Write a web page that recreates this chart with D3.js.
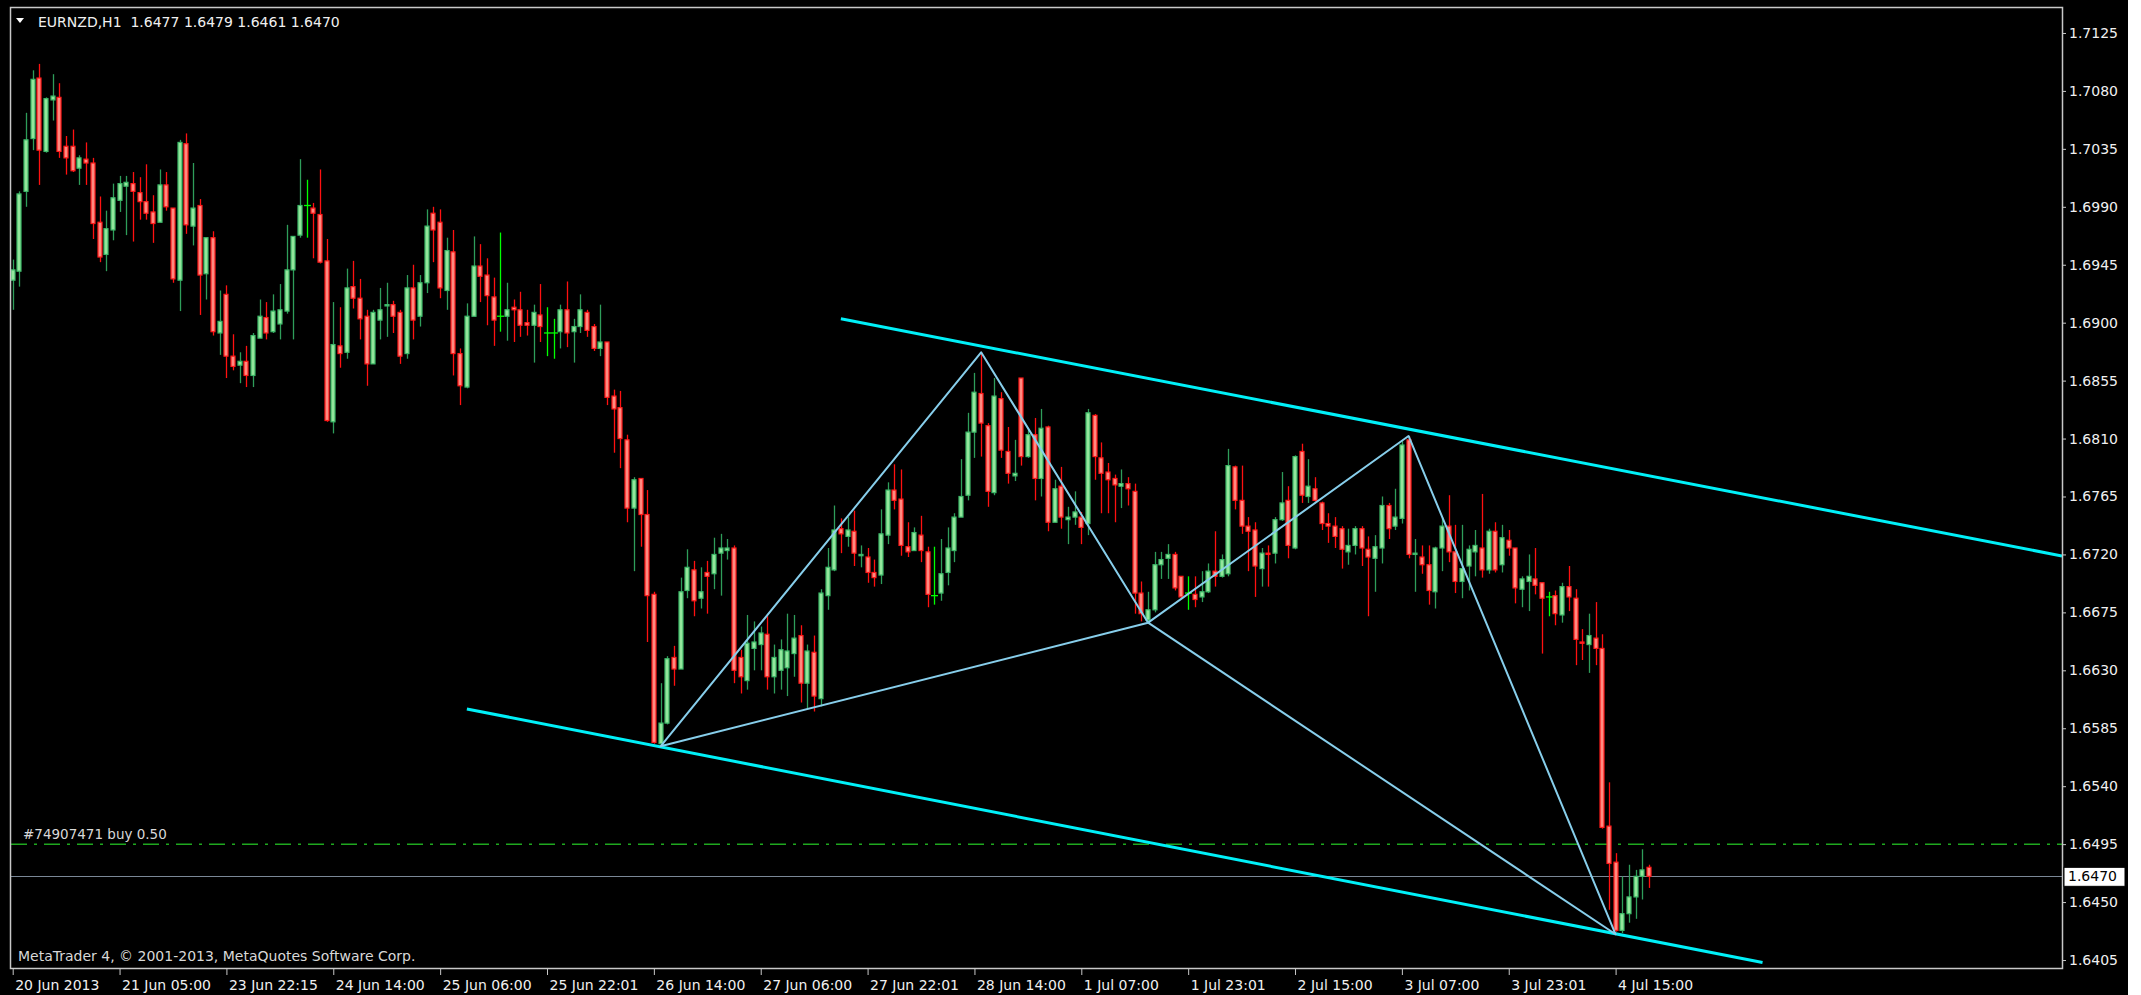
<!DOCTYPE html>
<html>
<head>
<meta charset="utf-8">
<script src="https://cdn.jsdelivr.net/npm/d3@7"></script>
<style>
  html, body { margin: 0; padding: 0; background: #000; }
  svg { display: block; }
  text { font-family: "DejaVu Sans", sans-serif; }
</style>
</head>
<body>
<svg id="chart" width="2141" height="995"></svg>
<script>
// EURNZD H1 candles (bar index = position on chart)
const opens = [
  1.6933,1.6940,1.7002,1.7043,1.7090,1.7033,1.7073,1.7075,1.7037,1.7037,
  1.7020,1.7027,1.7024,1.6978,1.6953,1.6972,1.6995,1.7006,1.7008,1.7001,
  1.6994,1.6986,1.6978,1.7007,1.6989,1.6933,1.7039,1.6975,1.6991,1.6938,
  1.6966,1.6892,1.6922,1.6874,1.6867,1.6870,1.6859,1.6888,1.6904,1.6893,
  1.6899,1.6909,1.6941,1.6968,1.6991,1.6989,1.6984,1.6948,1.6823,1.6882,
  1.6877,1.6928,1.6919,1.6905,1.6868,1.6902,1.6913,1.6914,1.6908,1.6876,
  1.6927,1.6905,1.6931,1.6985,1.6978,1.6925,1.6955,1.6876,1.6850,1.6905,
  1.6944,1.6937,1.6920,1.6905,1.6905,1.6912,1.6910,1.6900,1.6898,1.6906,
  1.6892,1.6892,1.6893,1.6910,1.6893,1.6897,1.6908,1.6897,1.6880,1.6885,
  1.6843,1.6834,1.6809,1.6756,1.6779,1.6751,1.6689,1.6573,1.6589,1.6640,
  1.6631,1.6692,1.6708,1.6686,1.6706,1.6705,1.6721,1.6723,1.6725,1.6640,
  1.6622,1.6647,1.6650,1.6658,1.6625,1.6630,1.6632,1.6643,1.6657,1.6620,
  1.6644,1.6608,1.6688,1.6708,1.6740,1.6734,1.6738,1.6719,1.6718,1.6706,
  1.6704,1.6735,1.6770,1.6763,1.6726,1.6723,1.6735,1.6722,1.6688,1.6690,
  1.6706,1.6723,1.6749,1.6766,1.6815,1.6845,1.6820,1.6768,1.6841,1.6800,
  1.6781,1.6857,1.6796,1.6813,1.6779,1.6819,1.6745,1.6773,1.6747,1.6749,
  1.6749,1.6744,1.6828,1.6795,1.6784,1.6779,1.6773,1.6775,1.6769,1.6690,
  1.6669,1.6677,1.6712,1.6717,1.6720,1.6703,1.6690,1.6689,1.6687,1.6691,
  1.6707,1.6703,1.6705,1.6788,1.6762,1.6742,1.6739,1.6709,1.6721,1.6721,
  1.6747,1.6762,1.6725,1.6800,1.6765,1.6771,1.6760,1.6744,1.6742,1.6740,
  1.6722,1.6727,1.6740,1.6724,1.6717,1.6725,1.6758,1.6742,1.6748,1.6809,
  1.6720,1.6718,1.6712,1.6691,1.6725,1.6742,1.6722,1.6699,1.6711,1.6722,
  1.6725,1.6708,1.6738,1.6712,1.6731,1.6725,1.6693,1.6699,1.6701,1.6698,
  1.6687,1.6688,1.6673,1.6695,1.6686,1.6652,1.6650,1.6655,1.6647,1.6509,
  1.6481,1.6428,1.6441,1.6454,1.6470,1.6477
];
const highs = [
  1.6949,1.7002,1.7063,1.7096,1.7101,1.7075,1.7093,1.7086,1.7045,1.7050,
  1.7030,1.7040,1.7028,1.6998,1.6987,1.7008,1.7014,1.7014,1.7017,1.7013,
  1.7023,1.6999,1.7019,1.7017,1.6989,1.7042,1.7047,1.7024,1.6996,1.6966,
  1.6971,1.6925,1.6929,1.6891,1.6877,1.6882,1.6892,1.6918,1.6916,1.6922,
  1.6930,1.6976,1.6967,1.7027,1.7011,1.6993,1.7019,1.6965,1.6916,1.6912,
  1.6942,1.6948,1.6934,1.6910,1.6910,1.6927,1.6931,1.6917,1.6910,1.6937,
  1.6945,1.6937,1.6988,1.6990,1.6988,1.6966,1.6972,1.6880,1.6915,1.6967,
  1.6961,1.6950,1.6935,1.6970,1.6931,1.6918,1.6924,1.6910,1.6914,1.6930,
  1.6912,1.6903,1.6914,1.6932,1.6903,1.6922,1.6910,1.6899,1.6914,1.6885,
  1.6848,1.6847,1.6813,1.6780,1.6779,1.6770,1.6691,1.6620,1.6641,1.6649,
  1.6702,1.6724,1.6715,1.6710,1.6715,1.6733,1.6736,1.6732,1.6727,1.6646,
  1.6673,1.6668,1.6664,1.6672,1.6650,1.6654,1.6674,1.6673,1.6665,1.6650,
  1.6657,1.6693,1.6725,1.6758,1.6748,1.6749,1.6754,1.6727,1.6725,1.6716,
  1.6755,1.6776,1.6790,1.6786,1.6745,1.6741,1.6750,1.6726,1.6726,1.6732,
  1.6741,1.6752,1.6794,1.6830,1.6861,1.6877,1.6822,1.6857,1.6846,1.6819,
  1.6809,1.6857,1.6817,1.6826,1.6833,1.6820,1.6778,1.6788,1.6757,1.6769,
  1.6753,1.6833,1.6829,1.6807,1.6791,1.6782,1.6786,1.6780,1.6775,1.6699,
  1.6691,1.6722,1.6722,1.6728,1.6722,1.6703,1.6703,1.6703,1.6707,1.6713,
  1.6738,1.6720,1.6802,1.6789,1.6789,1.6749,1.6745,1.6725,1.6727,1.6749,
  1.6784,1.6773,1.6797,1.6806,1.6794,1.6780,1.6761,1.6752,1.6749,1.6742,
  1.6740,1.6742,1.6742,1.6734,1.6735,1.6765,1.6760,1.6771,1.6808,1.6812,
  1.6732,1.6727,1.6727,1.6726,1.6749,1.6766,1.6743,1.6743,1.6727,1.6739,
  1.6767,1.6740,1.6745,1.6743,1.6739,1.6725,1.6703,1.6720,1.6725,1.6698,
  1.6691,1.6692,1.6698,1.6711,1.6693,1.6662,1.6674,1.6683,1.6658,1.6543,
  1.6488,1.6470,1.6479,1.6475,1.6491,1.6479
];
const lows = [
  1.6910,1.6928,1.6990,1.7034,1.7007,1.7032,1.7057,1.7028,1.7015,1.7017,
  1.7007,1.7007,1.6965,1.6947,1.6940,1.6964,1.6986,1.6968,1.6963,1.6980,
  1.6980,1.6962,1.6978,1.6987,1.6931,1.6909,1.6969,1.6960,1.6906,1.6918,
  1.6890,1.6875,1.6857,1.6863,1.6853,1.6850,1.6850,1.6888,1.6887,1.6892,
  1.6887,1.6907,1.6887,1.6966,1.6966,1.6950,1.6946,1.6823,1.6814,1.6865,
  1.6872,1.6911,1.6887,1.6851,1.6868,1.6887,1.6889,1.6892,1.6868,1.6872,
  1.6887,1.6897,1.6923,1.6947,1.6919,1.6910,1.6859,1.6836,1.6849,1.6905,
  1.6916,1.6898,1.6882,1.6893,1.6886,1.6885,1.6889,1.6890,1.6869,1.6885,
  1.6874,1.6872,1.6880,1.6881,1.6869,1.6892,1.6889,1.6878,1.6874,1.6836,
  1.6799,1.6787,1.6745,1.6707,1.6726,1.6652,1.6573,1.6571,1.6588,1.6618,
  1.6631,1.6686,1.6672,1.6678,1.6674,1.6693,1.6688,1.6716,1.6620,1.6612,
  1.6615,1.6630,1.6630,1.6615,1.6612,1.6615,1.6610,1.6625,1.6605,1.6600,
  1.6598,1.6602,1.6677,1.6707,1.6721,1.6726,1.6711,1.6710,1.6698,1.6695,
  1.6697,1.6728,1.6755,1.6719,1.6718,1.6723,1.6714,1.6679,1.6681,1.6684,
  1.6696,1.6714,1.6749,1.6762,1.6795,1.6796,1.6757,1.6766,1.6795,1.6775,
  1.6777,1.6789,1.6795,1.6762,1.6765,1.6738,1.6745,1.6740,1.6728,1.6743,
  1.6728,1.6735,1.6778,1.6752,1.6752,1.6745,1.6756,1.6758,1.6674,1.6668,
  1.6667,1.6675,1.6701,1.6701,1.6692,1.6686,1.6677,1.6679,1.6683,1.6690,
  1.6695,1.6702,1.6703,1.6755,1.6736,1.6707,1.6687,1.6695,1.6695,1.6713,
  1.6746,1.6717,1.6724,1.6760,1.6760,1.6761,1.6739,1.6729,1.6725,1.6709,
  1.6712,1.6720,1.6711,1.6672,1.6691,1.6713,1.6732,1.6739,1.6744,1.6717,
  1.6691,1.6705,1.6681,1.6678,1.6707,1.6714,1.6690,1.6686,1.6692,1.6703,
  1.6702,1.6705,1.6706,1.6706,1.6719,1.6682,1.6679,1.6676,1.6689,1.6643,
  1.6672,1.6665,1.6667,1.6676,1.6634,1.6638,1.6628,1.6634,1.6507,1.6444,
  1.6427,1.6426,1.6434,1.6437,1.6452,1.6461
];
const closes = [
  1.6941,1.7000,1.7042,1.7089,1.7034,1.7074,1.7076,1.7033,1.7028,1.7018,
  1.7028,1.7024,1.6977,1.6951,1.6973,1.6997,1.7008,1.7009,1.7002,1.6994,
  1.6985,1.6977,1.7007,1.6990,1.6934,1.7040,1.6976,1.6989,1.6937,1.6966,
  1.6893,1.6901,1.6874,1.6866,1.6870,1.6859,1.6890,1.6905,1.6892,1.6909,
  1.6910,1.6941,1.6967,1.6991,1.6991,1.6985,1.6947,1.6824,1.6883,1.6876,
  1.6927,1.6919,1.6903,1.6868,1.6908,1.6910,1.6914,1.6905,1.6874,1.6927,
  1.6902,1.6931,1.6975,1.6972,1.6927,1.6956,1.6876,1.6851,1.6905,1.6944,
  1.6936,1.6921,1.6902,1.6905,1.6910,1.6910,1.6898,1.6898,1.6908,1.6897,
  1.6892,1.6892,1.6910,1.6892,1.6897,1.6910,1.6894,1.6880,1.6885,1.6842,
  1.6833,1.6810,1.6756,1.6778,1.6751,1.6688,1.6574,1.6589,1.6639,1.6631,
  1.6691,1.6710,1.6684,1.6691,1.6703,1.6720,1.6725,1.6725,1.6630,1.6625,
  1.6651,1.6652,1.6659,1.6625,1.6640,1.6646,1.6645,1.6655,1.6620,1.6645,
  1.6610,1.6690,1.6710,1.6739,1.6736,1.6739,1.6721,1.6720,1.6706,1.6702,
  1.6736,1.6770,1.6762,1.6727,1.6722,1.6737,1.6723,1.6689,1.6688,1.6705,
  1.6725,1.6749,1.6765,1.6815,1.6846,1.6822,1.6769,1.6843,1.6801,1.6783,
  1.6783,1.6796,1.6813,1.6779,1.6818,1.6745,1.6771,1.6749,1.6749,1.6753,
  1.6741,1.6830,1.6796,1.6783,1.6778,1.6774,1.6775,1.6771,1.6690,1.6674,
  1.6677,1.6712,1.6716,1.6720,1.6694,1.6687,1.6690,1.6685,1.6691,1.6707,
  1.6703,1.6716,1.6789,1.6762,1.6742,1.6738,1.6711,1.6721,1.6720,1.6747,
  1.6760,1.6727,1.6796,1.6766,1.6773,1.6762,1.6744,1.6742,1.6734,1.6724,
  1.6727,1.6740,1.6725,1.6718,1.6726,1.6758,1.6740,1.6749,1.6805,1.6720,
  1.6721,1.6712,1.6692,1.6725,1.6742,1.6722,1.6699,1.6709,1.6724,1.6727,
  1.6708,1.6738,1.6708,1.6733,1.6725,1.6694,1.6701,1.6703,1.6696,1.6686,
  1.6687,1.6674,1.6695,1.6687,1.6654,1.6651,1.6657,1.6647,1.6508,1.6480,
  1.6428,1.6441,1.6454,1.6470,1.6475,1.6470
];

// price axis and time axis labels
const priceTicks = [1.6405,1.6450,1.6495,1.6540,1.6585,1.6630,1.6675,1.6720,1.6765,
                    1.6810,1.6855,1.6900,1.6945,1.6990,1.7035,1.7080,1.7125];
const timeTickBars = [0,16,32,48,64,80,96,112,128,144,160,176,192,208,224,240];
const timeLabels = ["20 Jun 2013","21 Jun 05:00","23 Jun 22:15","24 Jun 14:00","25 Jun 06:00",
                    "25 Jun 22:01","26 Jun 14:00","27 Jun 06:00","27 Jun 22:01","28 Jun 14:00",
                    "1 Jul 07:00","1 Jul 23:01","2 Jul 15:00","3 Jul 07:00","3 Jul 23:01","4 Jul 15:00"];

// drawn objects: channel (bar, price) anchors and the two triangles
const upperChannel = [[124, 1.6903], [262, 1.6764]];
const lowerChannel = [[68, 1.6600], [262, 1.6403]];
const trianglePoints = [[97, 1.6571], [145, 1.6877], [170, 1.6667], [209, 1.6812], [240, 1.6425]];
const triangles = [[0, 1, 2], [2, 3, 4]];
const orderPrice = 1.6495;
const bidPrice = 1.6470;
const header = ["EURNZD,H1", "1.6477 1.6479 1.6461 1.6470"];

const svg = d3.select('#chart');
const width = +svg.attr('width');
const height = +svg.attr('height');
const plot = { left: 11, top: 8, right: 2062, bottom: 968 };

const x = d3.scaleLinear().domain([0, 245]).range([12.7, 1649]);
const y = d3.scaleLinear().domain([1.63988, 1.71444]).range([plot.bottom, plot.top]);

svg.append('rect').attr('width', width).attr('height', height).attr('fill', '#000');
// white strip at right edge of the screenshot
svg.append('rect').attr('x', 2128).attr('y', 0).attr('width', width - 2128).attr('height', height).attr('fill', '#fff');

svg.append('clipPath').attr('id', 'clip')
  .append('rect')
  .attr('x', plot.left).attr('y', plot.top)
  .attr('width', plot.right - plot.left).attr('height', plot.bottom - plot.top);

const g = svg.append('g').attr('clip-path', 'url(#clip)');

// order line and bid line
g.append('line')
  .attr('x1', plot.left).attr('x2', plot.right)
  .attr('y1', y(orderPrice)).attr('y2', y(orderPrice))
  .attr('stroke', '#1fa81f').attr('stroke-width', 1.5)
  .attr('stroke-dasharray', '16,7,3,7');
g.append('line')
  .attr('x1', plot.left).attr('x2', plot.right)
  .attr('y1', Math.round(y(bidPrice)) + 0.5).attr('y2', Math.round(y(bidPrice)) + 0.5)
  .attr('stroke', '#7a8796').attr('stroke-width', 1.2);

// candles
const bars = d3.range(opens.length).map(i => ({
  i, o: opens[i], h: highs[i], l: lows[i], c: closes[i]
}));
const bodyW = 5;
const candle = g.selectAll('g.candle').data(bars).join('g').attr('class', 'candle');

candle.append('line')
  .attr('x1', d => Math.round(x(d.i)) + 0.5).attr('x2', d => Math.round(x(d.i)) + 0.5)
  .attr('y1', d => y(d.h)).attr('y2', d => y(d.l))
  .attr('stroke', d => d.c > d.o ? '#2e9d5a' : d.c < d.o ? '#ff1010' : '#00ff00')
  .attr('stroke-width', 1.3);

candle.filter(d => d.c !== d.o).append('rect')
  .attr('x', d => Math.round(x(d.i)) - bodyW / 2 + 0.5)
  .attr('y', d => y(Math.max(d.o, d.c)))
  .attr('width', bodyW - 1)
  .attr('height', d => Math.max(1, Math.abs(y(d.o) - y(d.c))))
  .attr('fill', d => d.c > d.o ? '#93e69c' : '#ff8a80')
  .attr('stroke', d => d.c > d.o ? '#3cb868' : '#ff1a1a')
  .attr('stroke-width', 1.2);

candle.filter(d => d.c === d.o).append('line')
  .attr('x1', d => Math.round(x(d.i)) - 3).attr('x2', d => Math.round(x(d.i)) + 4)
  .attr('y1', d => y(d.o)).attr('y2', d => y(d.o))
  .attr('stroke', '#00ff00').attr('stroke-width', 1.3);

// channel lines
const pt = d => [x(d[0]), y(d[1])];
function extendRight(a, b) {
  const slope = (b[1] - a[1]) / (b[0] - a[0]);
  const xe = x.invert(plot.right);
  return [a, [xe, a[1] + slope * (xe - a[0])]];
}
g.append('path')
  .attr('d', d3.line()(extendRight(...upperChannel).map(pt)))
  .attr('stroke', '#00f0f8').attr('stroke-width', 3).attr('fill', 'none');
g.append('path')
  .attr('d', d3.line()(lowerChannel.map(pt)))
  .attr('stroke', '#00f0f8').attr('stroke-width', 3).attr('fill', 'none');

// triangles
g.selectAll('path.tri').data(triangles).join('path')
  .attr('class', 'tri')
  .attr('d', t => d3.line()(t.map(k => pt(trianglePoints[k]))) + 'Z')
  .attr('fill', 'none').attr('stroke', '#87ceeb').attr('stroke-width', 2)
  .attr('stroke-linejoin', 'round');

// texts inside chart
g.append('text').attr('x', 23).attr('y', y(orderPrice) - 5)
  .attr('fill', '#d8d8d8').attr('font-size', 13.5).text('#74907471 buy 0.50');
g.append('text').attr('x', 18).attr('y', 961)
  .attr('fill', '#d8d8d8').attr('font-size', 14)
  .text('MetaTrader 4, \u00a9 2001-2013, MetaQuotes Software Corp.');

svg.append('path').attr('d', 'M16,18 L24,18 L20,23 Z').attr('fill', '#fff');
svg.append('text').attr('x', 38).attr('y', 27).attr('fill', '#f0f0f0').attr('font-size', 14)
  .attr('xml:space', 'preserve')
  .text(header[0] + '  ' + header[1]);

// frame
svg.append('rect')
  .attr('x', plot.left - 0.5).attr('y', plot.top - 0.5)
  .attr('width', plot.right - plot.left + 1).attr('height', plot.bottom - plot.top + 1)
  .attr('fill', 'none').attr('stroke', '#c8c8c8').attr('stroke-width', 1.5);

// price axis
const yAxis = svg.append('g').attr('transform', `translate(${plot.right},0)`)
  .call(d3.axisRight(y).tickValues(priceTicks).tickSize(4).tickPadding(3).tickFormat(d3.format('.4f')));
yAxis.select('.domain').remove();
yAxis.selectAll('line').attr('stroke', '#c8c8c8');
yAxis.selectAll('text').attr('fill', '#f0f0f0').attr('font-size', 14)
  .attr('font-family', '"DejaVu Sans", sans-serif');

// bid price label
svg.append('rect').attr('x', 2064).attr('y', y(bidPrice) - 9).attr('width', 61).attr('height', 19)
  .attr('fill', '#fff').attr('stroke', '#000');
svg.append('text').attr('x', 2068).attr('y', y(bidPrice) + 5).attr('fill', '#000').attr('font-size', 14)
  .text(d3.format('.4f')(bidPrice));

// time axis
const xAxis = svg.append('g').attr('transform', `translate(0,${plot.bottom})`)
  .call(d3.axisBottom(x).tickValues(timeTickBars).tickSize(7).tickFormat((d, i) => timeLabels[i]));
xAxis.select('.domain').remove();
xAxis.selectAll('line').attr('stroke', '#c8c8c8');
xAxis.selectAll('text').attr('fill', '#f0f0f0').attr('font-size', 14)
  .attr('font-family', '"DejaVu Sans", sans-serif')
  .attr('text-anchor', 'start').attr('dx', 2).attr('y', 9).attr('dy', '0.9em');
</script>
</body>
</html>
